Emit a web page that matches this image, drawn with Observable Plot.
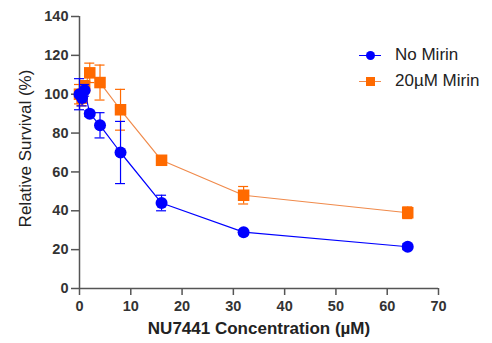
<!DOCTYPE html>
<html>
<head>
<meta charset="utf-8">
<script src="https://cdn.jsdelivr.net/npm/d3@7"></script>
<script src="https://cdn.jsdelivr.net/npm/@observablehq/plot@0.6"></script>
<style>
  html, body { margin: 0; padding: 0; background: #fff; }
  #wrap { position: relative; width: 492px; height: 343px; font-family: "Liberation Sans", Arial, sans-serif; }
  .legend { position: absolute; left: 359px; top: 42px; font-size: 17px; color: #222; }
  .legend .row { display: flex; align-items: center; height: 26px; }
  .legend .key { position: relative; width: 22px; height: 26px; margin-right: 14px; }
  .legend .key .ln { position: absolute; left: 0; right: 0; top: 12.5px; height: 1.5px; }
  .legend .key .mk { position: absolute; left: 6.5px; top: 8.5px; width: 9.5px; height: 9.5px; }
</style>
</head>
<body>
<div id="wrap">
  <div id="chart"></div>
  <div class="legend">
    <div class="row"><div class="key"><div class="ln" style="background:#0000ff"></div><div class="mk" style="background:#0000ff;border-radius:50%"></div></div>No Mirin</div>
    <div class="row"><div class="key"><div class="ln" style="background:#f08a4b"></div><div class="mk" style="background:#ff6a00"></div></div>20µM Mirin</div>
  </div>
</div>
<script>
// NU7441 concentrations (µM)
const concentration = [0, 0.5, 1, 2, 4, 8, 16, 32, 64];

// Relative survival (%) and standard deviations
const noMirinMean = [100, 98, 102, 90, 84, 70, 44, 29, 21.5];
const noMirinSD   = [8, 4, 3, 1.5, 6.5, 16, 4, 1, 1.5];
const mirinMean   = [100, 98, 104, 111, 106, 92, 66, 48, 39];
const mirinSD     = [5, 4, 3, 5, 9, 10.5, 1.5, 4.5, 3];

const xTicks = [0, 10, 20, 30, 40, 50, 60, 70];
const yTicks = [0, 20, 40, 60, 80, 100, 120, 140];

const rows = (mean, sd) => concentration.map((c, i) => ({c, v: mean[i], lo: mean[i] - sd[i], hi: mean[i] + sd[i]}));
const blue = rows(noMirinMean, noMirinSD);
const orange = rows(mirinMean, mirinSD);

const blueColor = "#0000ff", orangeColor = "#ff6a00", orangeLine = "#f08a4b";
const axisColor = "#555";

function errorBars(data, color) {
  return [
    Plot.ruleX(data, {x: "c", y1: "lo", y2: "hi", stroke: color, strokeWidth: 1.2}),
    Plot.ruleY(data, {y: "hi", x1: "c", x2: "c", insetLeft: -5, insetRight: -5, stroke: color, strokeWidth: 1.2}),
    Plot.ruleY(data, {y: "lo", x1: "c", x2: "c", insetLeft: -5, insetRight: -5, stroke: color, strokeWidth: 1.2})
  ];
}

const chart = Plot.plot({
  width: 492,
  height: 343,
  marginLeft: 79,
  marginRight: 54,
  marginTop: 16,
  marginBottom: 55,
  style: {fontFamily: "Liberation Sans, Arial, sans-serif", fontSize: "14px", color: "#333", background: "#fff", overflow: "visible"},
  x: {domain: [0, 70], ticks: xTicks, label: null},
  y: {domain: [0, 140], ticks: yTicks, label: null},
  marks: [
    Plot.axisX({ticks: xTicks, tickSize: 7, tickPadding: 5, stroke: axisColor, strokeWidth: 1.5, fontWeight: "bold", fill: "#333", fontSize: 14.5, label: null}),
    Plot.axisY({ticks: yTicks, tickSize: 8, tickPadding: 3, stroke: axisColor, strokeWidth: 1.5, fontWeight: "bold", fill: "#333", fontSize: 14.5, label: null}),
    Plot.ruleY([0], {stroke: axisColor, strokeWidth: 1.5}),
    Plot.ruleX([0], {stroke: axisColor, strokeWidth: 1.5}),
    Plot.text(["NU7441 Concentration (µM)"], {frameAnchor: "bottom", lineAnchor: "middle", dy: 40, fontWeight: "bold", fontSize: 17, fill: "#222"}),
    Plot.text(["Relative Survival (%)"], {frameAnchor: "left", textAnchor: "middle", lineAnchor: "middle", rotate: -90, dx: -54, dy: -4, fontSize: 17, fill: "#222"}),
    // 20 µM Mirin series
    Plot.line(orange, {x: "c", y: "v", stroke: orangeLine, strokeWidth: 1.2}),
    ...errorBars(orange, orangeColor),
    Plot.dot(orange, {x: "c", y: "v", symbol: "square", r: 6.5, fill: orangeColor, stroke: "none"}),
    // No Mirin series
    Plot.line(blue, {x: "c", y: "v", stroke: blueColor, strokeWidth: 1.2}),
    ...errorBars(blue, blueColor),
    Plot.dot(blue, {x: "c", y: "v", r: 6, fill: blueColor, stroke: "none"})
  ]
});
document.getElementById("chart").appendChild(chart);
</script>
</body>
</html>
